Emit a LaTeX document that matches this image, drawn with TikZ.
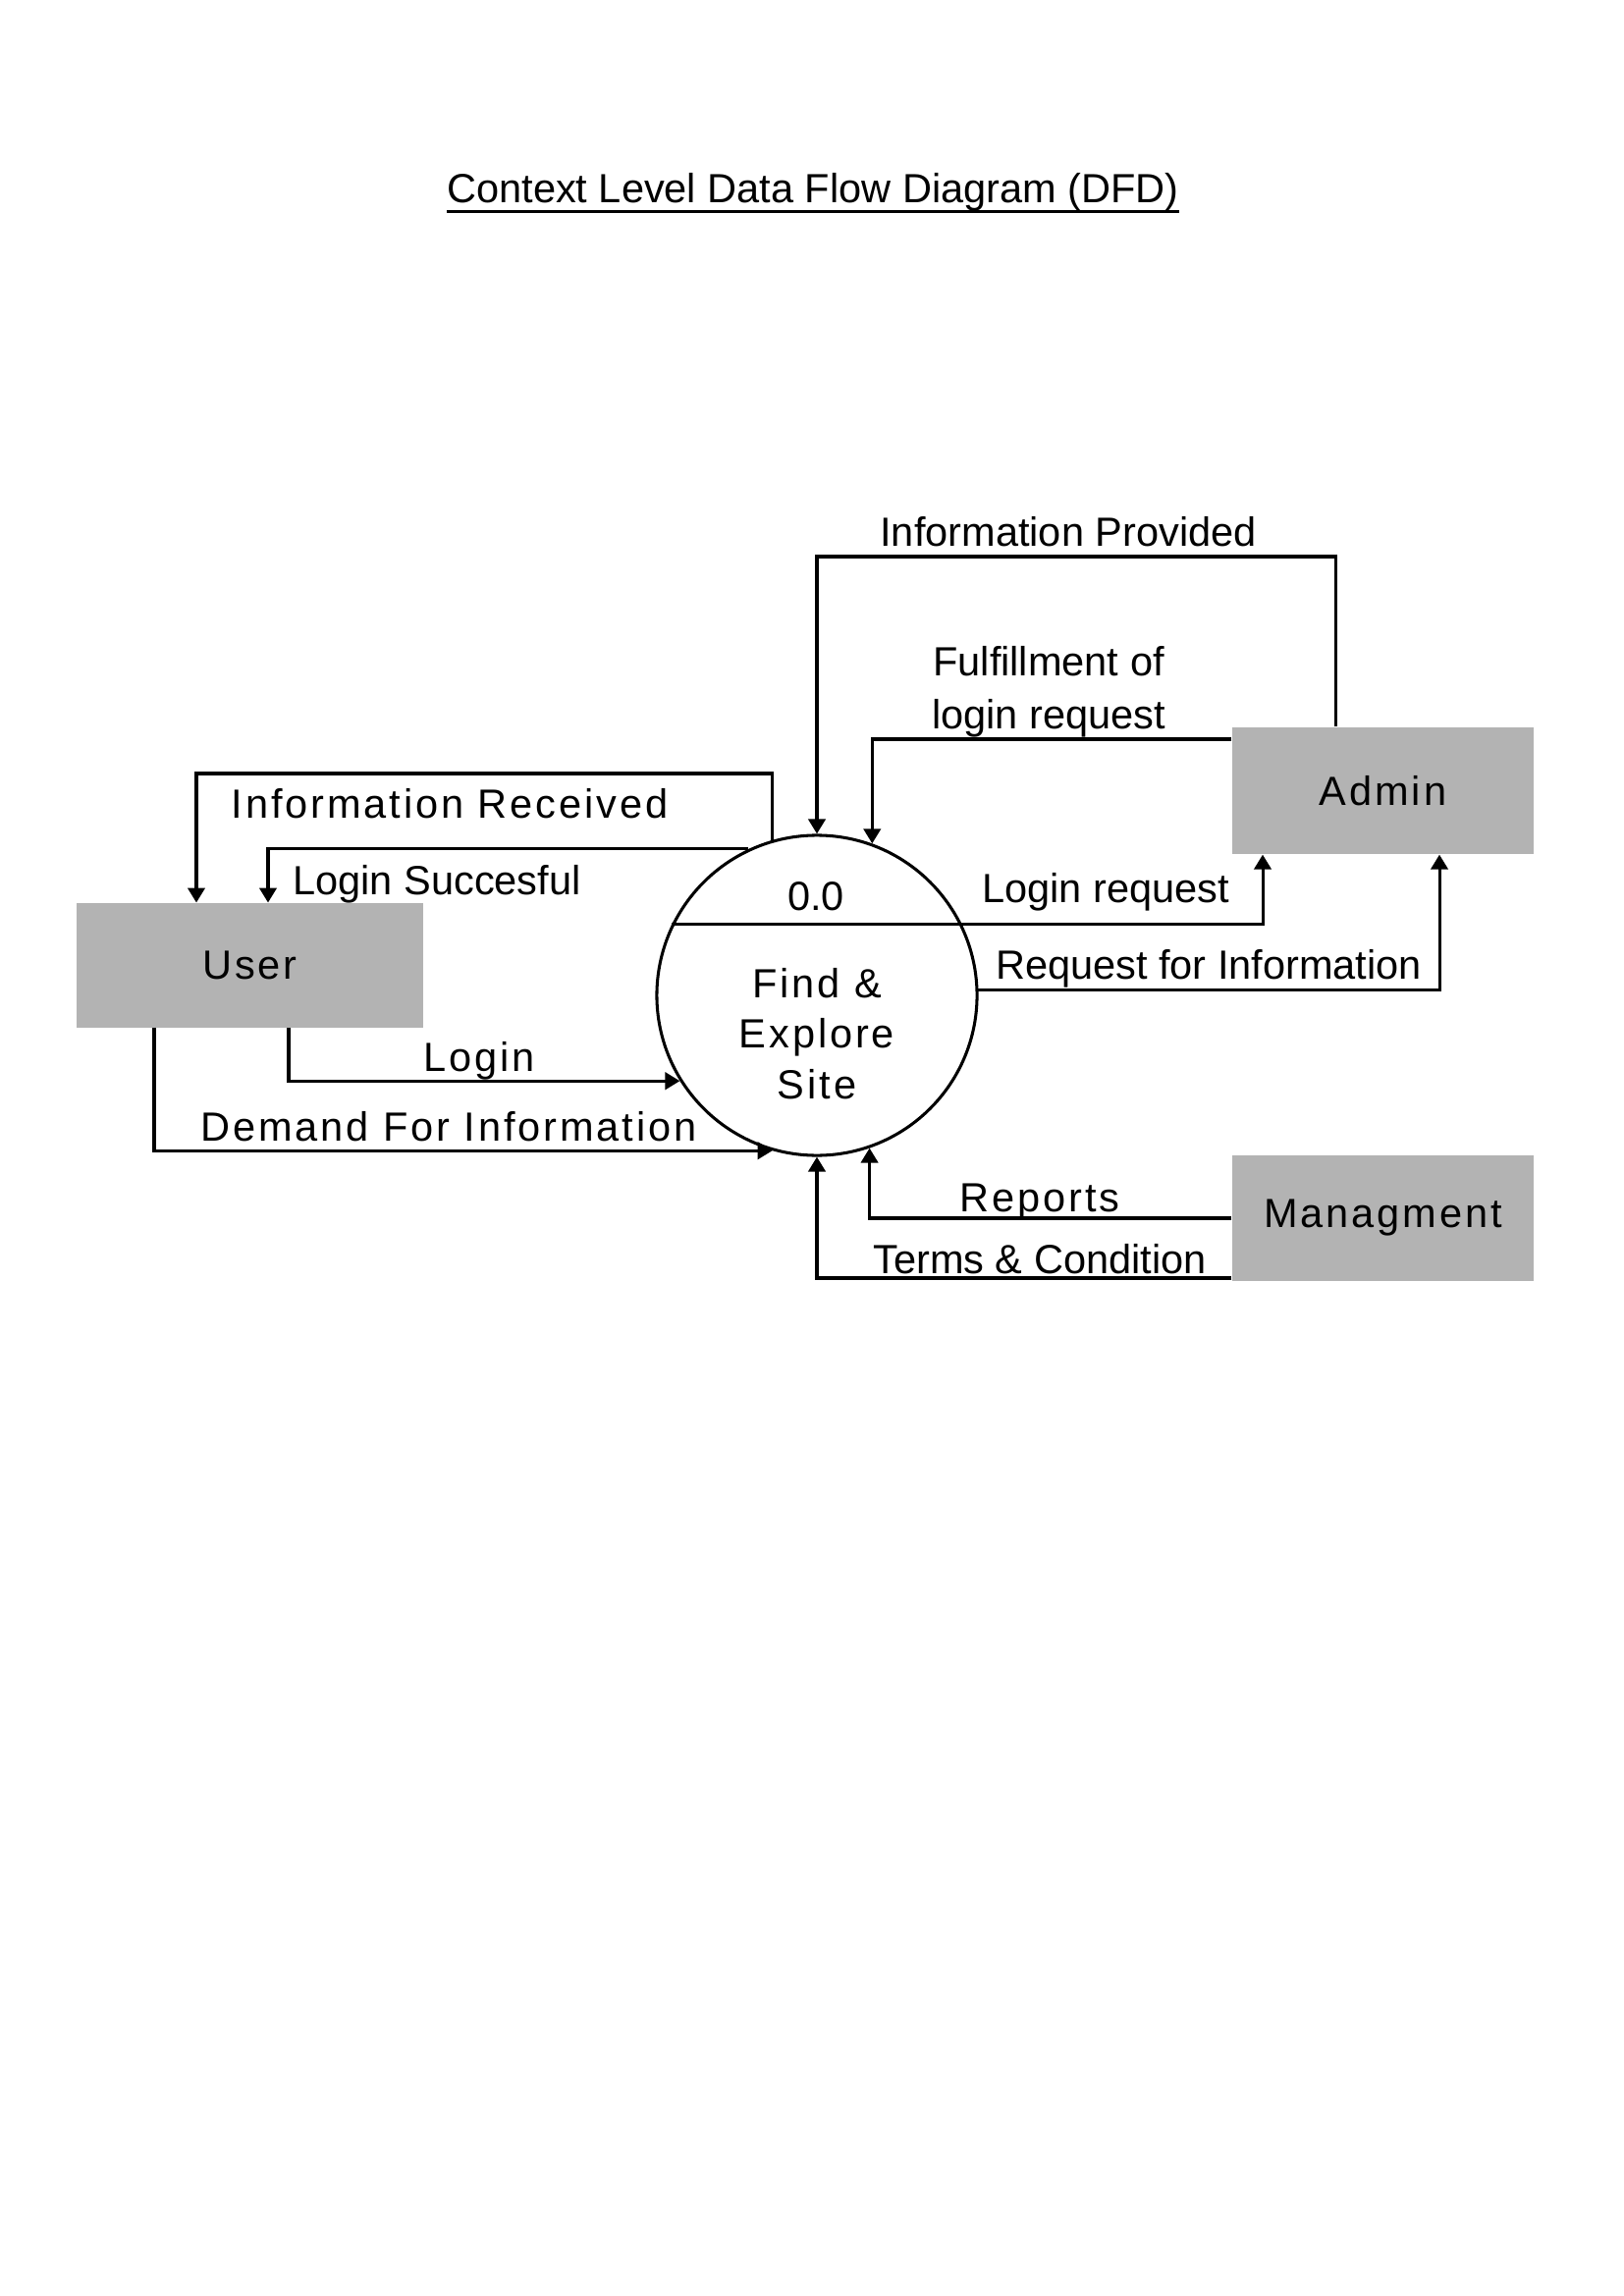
\documentclass[tikz,border=0pt]{standalone}
\usepackage{fontspec}
\setmainfont{Liberation Sans}
\newfontfamily\spacedfont[LetterSpace=7]{Liberation Sans}
\usepackage{tikz}
\usetikzlibrary{calc, arrows.meta}
\definecolor{boxgray}{HTML}{B3B3B3}
\tikzstyle{flow}   = [line width=1.1pt,-{Triangle[length=1.9mm,width=2.2mm]}]
\tikzstyle{entity} = [fill=boxgray,inner sep=0pt,font=\spacedfont\fontsize{15}{18}\selectfont]
\tikzstyle{lbl}    = [inner sep=0pt,font=\fontsize{15}{18}\selectfont]
\tikzstyle{slbl}   = [inner sep=0pt,font=\spacedfont\fontsize{15}{18.7}\selectfont]

\begin{document}
\begin{tikzpicture}[x=0.0127cm,y=-0.0127cm]
  \useasboundingbox (0,0) rectangle (1653,2339);

  %title
  \node[lbl,anchor=base] (title) at (828,207) {Context Level Data Flow Diagram (DFD)};
  \draw[line width=0.9pt] ([yshift=-3pt]title.base west) -- ([yshift=-3pt]title.base east);

  %external entities
  \node[entity,minimum width=4.48cm,minimum height=1.61cm] (user) at (254.5,983.5) {User};
  \node[entity,minimum width=3.90cm,minimum height=1.64cm] (admin) at (1408.5,805.5) {Admin};
  \node[entity,minimum width=3.90cm,minimum height=1.63cm] (mgmt) at (1408.5,1241) {Managment};

  %the process
  \node[circle,draw,line width=1.1pt,minimum size=4.14cm,inner sep=0pt] (proc) at (832,1014) {};
  \coordinate (divR) at (proc.25.8 |- proc.154.2);
  \draw[line width=1.1pt] (proc.154.2) -- (divR);
  \node[lbl] (procid) at (831,913) {0.0};
  \node[slbl,align=center] (procname) at (832,1053) {Find \&\\Explore\\Site};

  %flows with the user
  \draw[flow] (proc.106.8) |- (200,788) -- (200,0 |- user.north);
  \node[slbl] (inforec) at (458,819) {Information Received};
  \draw[flow] (proc.115.5) -- (273,0 |- proc.115.5) -- (273,0 |- user.north);
  \node[lbl] (loginok) at (445,901) {Login Succesful};
  \draw[flow] (294,0 |- user.south) |- (proc.212.7);
  \node[slbl] (login) at (488,1081) {Login};
  \draw[flow] (157,0 |- user.south) |- (proc.254.3);
  \node[slbl] (demand) at (457,1148) {Demand For Information};

  %flows with the admin
  \draw[flow] (1360,0 |- admin.north) -- (1360,567) -| (proc.north);
  \node[lbl] (infoprov) at (1088,542) {Information Provided};
  \draw[flow] (admin.west |- 0,753) -| (proc.70.1);
  \node[lbl,align=center,font=\fontsize{15}{19.5}\selectfont] (fulfil) at (1068,705) {Fulfillment of\\login request};
  \draw[flow] (divR) -| (1286,0 |- admin.south);
  \node[lbl] (loginreq) at (1126,909) {Login request};
  \draw[flow] (proc.2) -| (1466,0 |- admin.south);
  \node[lbl] (reqinfo) at (1231,987) {Request for Information};

  %flows with the managment
  \draw[flow] (mgmt.west |- 0,1241) -| (proc.289.9);
  \node[slbl] (reports) at (1059,1225) {Reports};
  \draw[flow] (mgmt.west |- 0,1302) -| (proc.south);
  \node[lbl] (terms) at (1059,1283) {Terms \& Condition};
\end{tikzpicture}
\end{document}
